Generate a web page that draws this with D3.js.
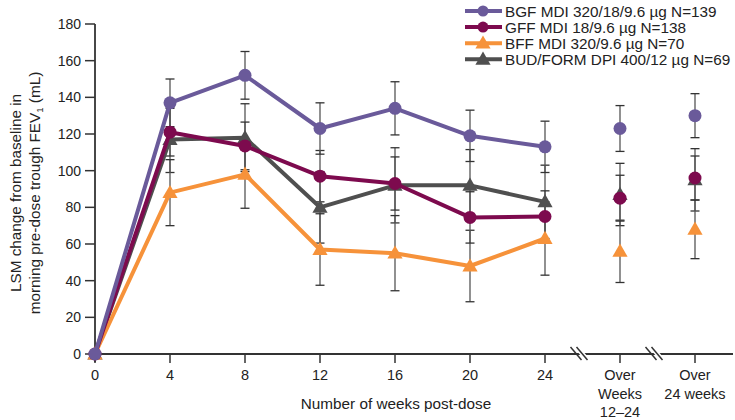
<!DOCTYPE html>
<html><head><meta charset="utf-8">
<script src="https://cdn.jsdelivr.net/npm/d3@7"></script>
<style>body{margin:0;background:#fff;}svg{display:block;font-family:"Liberation Sans",Arial,sans-serif;}</style>
</head><body>
<svg id="chart" width="735" height="420"></svg>
<script>
const categories = ["0","4","8","12","16","20","24","Over Weeks 12–24","Over 24 weeks"];
const tickLabels = [["0"],["4"],["8"],["12"],["16"],["20"],["24"],["Over","Weeks","12–24"],["Over","24 weeks"]];
const yTicks = [0,20,40,60,80,100,120,140,160,180];
const seriesNames = ["BGF MDI 320/18/9.6 µg N=139","GFF MDI 18/9.6 µg N=138","BFF MDI 320/9.6 µg N=70","BUD/FORM DPI 400/12 µg N=69"];
const bgfValues = [0,137,152,123,134,119,113,123,130];
const gffValues = [0,121,113.5,97,93,74.5,75,85,96];
const bffValues = [0,88,98,57,55,48,63,56,68];
const budValues = [0,117,118,80,92,92,83,87,95];
const bgfErr = [0,13,13,14,14.5,14,14,12.5,12];
const gffErr = [0,13,13,14,14.5,14,14,12.5,12];
const bffErr = [0,18,18.5,19.5,20.5,19.5,20,17,16];
const budErr = [0,18,18.5,19.5,20.5,19.5,20,17,17];

const series = [
  {name:seriesNames[0], values:bgfValues, err:bgfErr, color:"#6a5a9a", shape:"circle"},
  {name:seriesNames[1], values:gffValues, err:gffErr, color:"#7d0a4e", shape:"circle"},
  {name:seriesNames[2], values:bffValues, err:bffErr, color:"#f6923a", shape:"triangle"},
  {name:seriesNames[3], values:budValues, err:budErr, color:"#4f4f4f", shape:"triangle"}
];
const drawOrder = [3,2,1,0];

const svg = d3.select("#chart");
const x = d3.scalePoint().domain(categories).range([95,695]).padding(0);
const y = d3.scaleLinear().domain([0,180]).range([354,24]);
const axisColor = "#333";
const bigFont = 15.3;

// error bars
const eg = svg.append("g");
drawOrder.forEach(si=>{
  const s = series[si];
  s.values.forEach((v,i)=>{
    const e = s.err[i]; if(!e) return;
    const cx = x(categories[i]);
    eg.append("line").attr("x1",cx).attr("x2",cx).attr("y1",y(v-e)).attr("y2",y(v+e))
      .attr("stroke","#555").attr("stroke-width",1.3);
    [v-e,v+e].forEach(c=>eg.append("line").attr("x1",cx-4.5).attr("x2",cx+4.5).attr("y1",y(c)).attr("y2",y(c))
      .attr("stroke","#333").attr("stroke-width",1.3));
  });
});

// axes
const ax = svg.append("g");
ax.append("line").attr("x1",95).attr("x2",733).attr("y1",y(0)).attr("y2",y(0)).attr("stroke",axisColor).attr("stroke-width",1.8);
ax.append("line").attr("x1",95).attr("x2",95).attr("y1",y(180)).attr("y2",y(0)+8).attr("stroke",axisColor).attr("stroke-width",1.8);
yTicks.forEach(t=>{
  ax.append("line").attr("x1",85).attr("x2",95).attr("y1",y(t)).attr("y2",y(t)).attr("stroke",axisColor).attr("stroke-width",1.5);
  ax.append("text").attr("x",81).attr("y",y(t)).attr("dy","0.35em").attr("text-anchor","end")
    .attr("font-size",14).attr("fill","#222").text(t);
});
categories.forEach((c,i)=>{
  const cx = x(c);
  ax.append("line").attr("x1",cx).attr("x2",cx).attr("y1",y(0)).attr("y2",y(0)+9).attr("stroke",axisColor).attr("stroke-width",1.5);
  const t = ax.append("text").attr("text-anchor","middle").attr("font-size",14.5).attr("fill","#222");
  tickLabels[i].forEach((l,j)=>t.append("tspan").attr("x",cx).attr("y",380+j*18.5).text(l));
});
// axis breaks
[(x(categories[6])+x(categories[7]))/2, (x(categories[7])+x(categories[8]))/2].forEach(bx=>{
  ax.append("polygon").attr("points",`${bx-9},${y(0)-7} ${bx-3},${y(0)-7} ${bx+8},${y(0)+6} ${bx+2},${y(0)+6}`).attr("fill","#fff");
  [-6,0].forEach(o=>ax.append("line").attr("x1",bx-9+o+3).attr("y1",y(0)-7).attr("x2",bx+2+o+3).attr("y2",y(0)+6)
    .attr("stroke",axisColor).attr("stroke-width",1.5));
});

// axis titles
ax.append("text").attr("x",396).attr("y",409).attr("text-anchor","middle").attr("font-size",bigFont).attr("fill","#222")
  .text("Number of weeks post-dose");
const yt = ax.append("text").attr("transform","translate(0,193) rotate(-90)").attr("text-anchor","middle").attr("font-size",bigFont).attr("fill","#222");
yt.append("tspan").attr("x",0).attr("y",21).text("LSM change from baseline in");
const l2 = yt.append("tspan").attr("x",0).attr("y",39.5);
l2.append("tspan").text("morning pre-dose trough FEV");
l2.append("tspan").attr("font-size",9.5).attr("dy",3).text("1");
l2.append("tspan").attr("dy",-3).text(" (mL)");

// lines & markers
const line = d3.line().x((d,i)=>x(categories[i])).y(d=>y(d));
const tri = d3.symbol().type(d3.symbolTriangle).size(100);
function marker(g, shape, cx, cy, color, r){
  if(shape==="circle") g.append("circle").attr("cx",cx).attr("cy",cy).attr("r",r||6.5).attr("fill",color);
  else g.append("path").attr("d",tri()).attr("transform",`translate(${cx},${cy+1})`).attr("fill",color);
}
const mg = svg.append("g");
drawOrder.forEach(si=>{
  const s = series[si];
  mg.append("path").datum(s.values.slice(0,7)).attr("d",line).attr("fill","none")
    .attr("stroke",s.color).attr("stroke-width",4).attr("stroke-linejoin","round");
  s.values.forEach((v,i)=>marker(mg,s.shape,x(categories[i]),y(v),s.color));
});

// legend
const lg = svg.append("g");
series.forEach((s,i)=>{
  const ly = 11 + i*16.1;
  lg.append("line").attr("x1",465).attr("x2",502).attr("y1",ly).attr("y2",ly).attr("stroke",s.color).attr("stroke-width",4);
  marker(lg,s.shape,483,ly,s.color,5.5);
  lg.append("text").attr("x",505).attr("y",ly).attr("dy","0.36em").attr("font-size",bigFont).attr("fill","#222").text(s.name);
});
</script>
</body></html>
